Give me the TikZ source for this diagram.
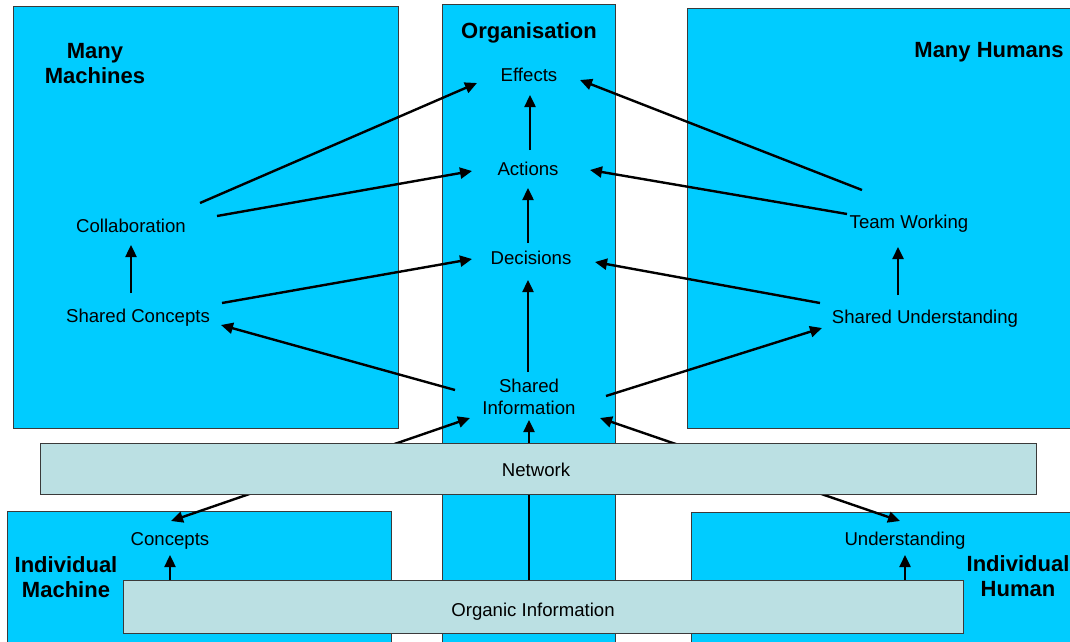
\documentclass[tikz,border=0pt]{standalone}
\usepackage{fontspec}
\setmainfont{Liberation Sans}
\usetikzlibrary{arrows.meta}
\definecolor{boxblue}{HTML}{00CCFF}
\definecolor{barblue}{HTML}{BBE0E3}
\definecolor{edgegray}{HTML}{3A3A3A}
\begin{document}
\begin{tikzpicture}[x=1pt,y=-1pt,
 region/.style={fill=boxblue,draw=edgegray,line width=1pt},
 bar/.style={fill=barblue,draw=edgegray,line width=1pt,inner sep=0pt},
 lbl/.style={font=\fontsize{18.6}{22}\selectfont,inner sep=0pt,align=center},
 ttl/.style={font=\bfseries\fontsize{22}{25}\selectfont,inner sep=0pt,align=center},
 arr/.style={line width=2.4pt,-{Triangle[length=12pt,width=11pt]}},
 darr/.style={line width=2.4pt,{Triangle[length=12pt,width=11pt]}-{Triangle[length=12pt,width=11pt]}}]
\useasboundingbox (0,0) rectangle (1070,642);
\clip (0,0) rectangle (1070,642);
% regions
\draw[region] (13,7) rectangle (398,428);
\draw[region] (442,5) rectangle (615,660);
\draw[region] (687,9) rectangle (1080,428);
\draw[region] (7,511) rectangle (391,660);
\draw[region] (691,512) rectangle (1080,660);
% titles
\node[ttl] (tmm) at (95,63.5) {Many\\Machines};
\node[ttl] (torg) at (529,33) {Organisation};
\node[ttl] (tmh) at (989,52) {Many Humans};
\node[ttl] (tim) at (66,577.5) {Individual\\Machine};
\node[ttl] (tih) at (1018,576.5) {Individual\\Human};
% labels
\node[lbl] (E) at (529,75) {Effects};
\node[lbl] (A) at (528,169) {Actions};
\node[lbl] (D) at (531,258) {Decisions};
\node[lbl] (SI) at (529,397) {Shared\\Information};
\node[lbl] (C) at (131,226) {Collaboration};
\node[lbl] (SC) at (138,318) {Shared Concepts};
\node[lbl] (TW) at (909,224) {Team Working};
\node[lbl] (SU) at (925,319) {Shared Understanding};
\node[lbl] (Co) at (170,541) {Concepts};
\node[lbl] (U) at (905,541) {Understanding};
% organic bar
\node[bar,minimum width=840pt,minimum height=53pt] (O) at (543,606.5) {};
\node[lbl] (Ot) at (533,612) {Organic Information};
% arrows behind network
\draw[arr] (O.north -| SI) -- ([shift={(0,23)}]SI.center);
\draw[darr] ([shift={(1,-20)}]Co.center) -- ([shift={(-59,21)}]SI.center);
\draw[darr] ([shift={(-5,-20)}]U.center) -- ([shift={(71,21)}]SI.center);
% network bar
\node[bar,minimum width=996pt,minimum height=51pt] (N) at (538,468.5) {};
\node[lbl] (Nt) at (536,470) {Network};
% other arrows
\draw[arr] ([shift={(2,-19)}]A.center) -- ([shift={(1,20)}]E.center);
\draw[arr] ([shift={(-3,-15)}]D.center) -- ([shift={(0,19)}]A.center);
\draw[arr] ([shift={(-1,-25)}]SI.center) -- ([shift={(-3,22)}]D.center);
\draw[arr] ([shift={(69,-23)}]C.center) -- ([shift={(-52,8)}]E.center);
\draw[arr] ([shift={(86,-10)}]C.center) -- ([shift={(-56,2)}]A.center);
\draw[arr] ([shift={(84,-15)}]SC.center) -- ([shift={(-59,1)}]D.center);
\draw[arr] ([shift={(-7,-25)}]SC.center) -- ([shift={(0,19)}]C.center);
\draw[arr] ([shift={(-74,-7)}]SI.center) -- ([shift={(83,7)}]SC.center);
\draw[arr] ([shift={(-47,-34)}]TW.center) -- ([shift={(51,5)}]E.center);
\draw[arr] ([shift={(-62,-10)}]TW.center) -- ([shift={(62,1)}]A.center);
\draw[arr] ([shift={(-105,-16)}]SU.center) -- ([shift={(64,4)}]D.center);
\draw[arr] ([shift={(-27,-24)}]SU.center) -- ([shift={(-11,23)}]TW.center);
\draw[arr] ([shift={(77,-1)}]SI.center) -- ([shift={(-103,9)}]SU.center);
\draw[arr] (O.north -| Co) -- ([shift={(0,14)}]Co.center);
\draw[arr] (O.north -| U) -- ([shift={(0,14)}]U.center);
\end{tikzpicture}
\end{document}
